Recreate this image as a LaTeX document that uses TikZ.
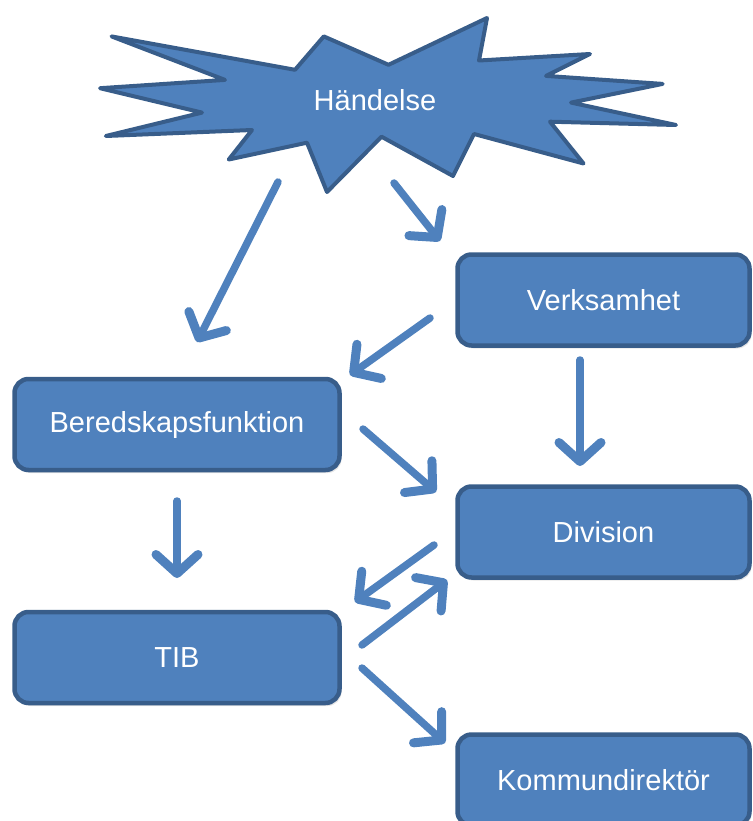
\documentclass[tikz,border=0pt]{standalone}
\usepackage{fontspec}
\setmainfont{Liberation Sans}
\usetikzlibrary{arrows.meta,shadows}
\definecolor{boxblue}{HTML}{4F81BD}
\definecolor{boxedge}{HTML}{385D8A}

\begin{document}
\begin{tikzpicture}[x=1pt,y=-1pt,
    etikett/.style={text=white,font=\fontsize{29}{34}\selectfont},
    ruta/.style={etikett,draw=boxedge,fill=boxblue,line width=4.5pt,rounded corners=14pt,
        minimum width=292pt,minimum height=91pt,
        drop shadow={opacity=0.2,shadow xshift=2pt,shadow yshift=-3pt}},
    pil/.style={draw=boxblue,line width=7.5pt,line cap=round,
        -{Straight Barb[length=19pt,width=42pt,round,line width=9pt 0]}}]

    \useasboundingbox (0,0) rectangle (752,821);

    % the star
    \draw [draw=boxedge,fill=boxblue,line width=4pt,line join=round]
        (111.5,36.4) -- (225,79.9) -- (100,88.2) -- (202,112.6) -- (105.8,136)
        -- (252,130) -- (228.8,159.5) -- (307,142.7) -- (327,192) -- (381.5,136.7)
        -- (453,176) -- (474,134) -- (583.5,163.5) -- (550,121.7) -- (676,125)
        -- (571,102.6) -- (662.7,83.9) -- (546,75.9) -- (590,54) -- (479,60.5)
        -- (487,18) -- (388.5,64.8) -- (323.8,36.4) -- (295,69.8) -- cycle;
    \node [etikett] (hand) at (375,100) {Händelse};

    % boxes
    \node [ruta] (verk) at (603.5,300) {Verksamhet};
    \node [ruta] (div)  at (603.5,532) {Division};
    \node [ruta] (kom)  at (603.5,780) {Kommundirektör};
    \node [ruta,minimum width=325pt] (bered) at (177,424.5) {Beredskapsfunktion};
    \node [ruta,minimum width=325pt] (tib)   at (177,657.5) {TIB};

    % arrow ends
    \coordinate (s1) at (278,182); \coordinate (e1) at (197,342);
    \coordinate (s2) at (394,183); \coordinate (e2) at (440,241);
    \coordinate (s3) at (430,318); \coordinate (e3) at (350,375);
    \coordinate (s4) at (580,360); \coordinate (e4) at (580,466);
    \coordinate (s5) at (363,429); \coordinate (e5) at (436,492);
    \coordinate (s6) at (177,501); \coordinate (e6) at (177,578);
    \coordinate (s7) at (434,545); \coordinate (e7) at (355,602);
    \coordinate (s8) at (362,645); \coordinate (e8) at (447,580);
    \coordinate (s9) at (362,668); \coordinate (e9) at (445,743);

    \foreach \i in {1,...,9}{%
        \draw [pil] (s\i) -- (e\i);
    }

\end{tikzpicture}
\end{document}
